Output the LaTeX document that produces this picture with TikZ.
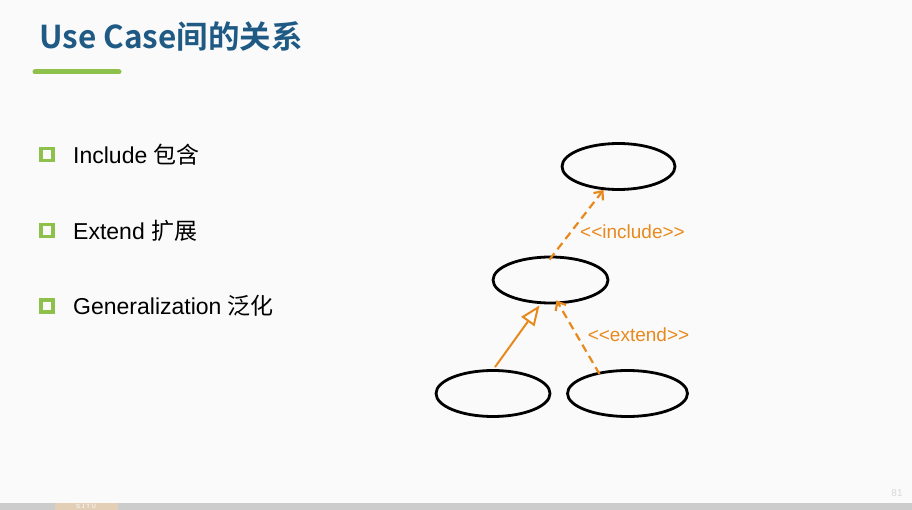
\documentclass[tikz,border=0pt]{standalone}
\usepackage{fontspec}
\setmainfont{Liberation Sans}
\newfontfamily\cjk{Noto Sans CJK SC}
\newfontfamily\cjkb{Noto Sans CJK SC Bold}
\usetikzlibrary{arrows.meta,shapes.geometric}
\definecolor{bg}{HTML}{FAFAFA}
\definecolor{titleblue}{HTML}{1F5A85}
\definecolor{lgreen}{HTML}{8DC14B}
\definecolor{uorange}{HTML}{E8891C}
\definecolor{footgray}{HTML}{CCCCCC}
\definecolor{sjtutan}{HTML}{E2CFB6}
\begin{document}
\begin{tikzpicture}[x=1pt,y=-1pt,
  usecase/.style={draw=black,line width=2.8pt,ellipse,inner sep=0pt},
  bulletbox/.style={draw=lgreen,line width=3.8pt,minimum size=12pt,inner sep=0pt},
  bullettext/.style={anchor=west,inner sep=0pt,font=\fontsize{23}{27}\selectfont},
  dep/.style={draw=uorange,line width=2.2pt,dash pattern=on 8pt off 5pt,-{Straight Barb[length=7pt,width=12pt,line width=2.2pt]}},
  gen/.style={draw=uorange,line width=2pt,-{Triangle[open,length=20pt,width=16pt,line width=2pt,fill=white]}},
  deplabel/.style={text=uorange,inner sep=0pt,font=\fontsize{19}{22}\selectfont}]
\useasboundingbox (0,0) rectangle (912,510);
\fill[bg] (0,0) rectangle (912,510);
% footer
\fill[footgray] (0,503) rectangle (912,510);
\fill[sjtutan] (55,503) rectangle (118,510);
\node[text=white,font=\fontsize{6}{7}\selectfont,inner sep=0pt] (sjtu) at (86,506.5) {S J T U};
\node[text=black!15,font=\fontsize{10}{12}\selectfont,inner sep=0pt] (pagenum) at (897,493) {81};
% title
\node[anchor=west,inner sep=0pt,text=titleblue,font=\cjkb\fontsize{31.5}{36}\selectfont] (title) at (39,36) {Use Case间的关系};
\draw[lgreen,line width=5pt,line cap=round] (35,72) -- (119,72);
% bullets
\node[bulletbox] (b1) at (47,154.5) {};
\node[bullettext] (t1) at (73,155) {Include {\cjk 包含}};
\node[bulletbox] (b2) at (47,230.5) {};
\node[bullettext] (t2) at (73,231) {Extend {\cjk 扩展}};
\node[bulletbox] (b3) at (47,306) {};
\node[bullettext] (t3) at (73,306) {Generalization {\cjk 泛化}};
% use cases
\node[usecase,minimum width=113pt,minimum height=46pt] (top) at (618.5,166.5) {};
\node[usecase,minimum width=115pt,minimum height=46pt] (mid) at (550.5,280) {};
\node[usecase,minimum width=114pt,minimum height=46pt] (bl) at (493,393.5) {};
\node[usecase,minimum width=120pt,minimum height=46pt] (br) at (627.5,393.5) {};
% relations
\draw[dep] ([xshift=-1pt,yshift=-4pt]mid.north) -- ([xshift=-15pt,yshift=1pt]top.south);
\node[deplabel] (lincl) at (632.5,231.5) {<{}<include>{}>};
\draw[gen] ([xshift=2pt,yshift=2pt]bl.north) -- ([xshift=-11pt,yshift=-1pt]mid.south);
\draw[dep] ([xshift=-28pt,yshift=-5pt]br.north) -- ([xshift=6pt,yshift=4pt]mid.south);
\node[deplabel] (lext) at (638.5,334.5) {<{}<extend>{}>};
\end{tikzpicture}
\end{document}
